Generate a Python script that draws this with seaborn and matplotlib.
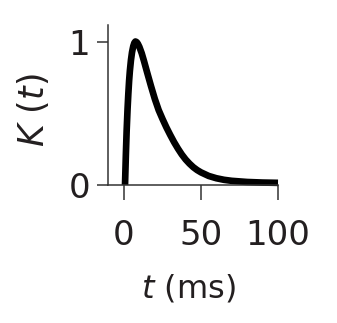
import matplotlib
matplotlib.use("Agg")
import matplotlib.pyplot as plt
import seaborn as sns
import pandas as pd

# Data
t_ms = [0.65, 1.2, 1.7, 2.3, 2.8, 3.3, 3.8, 4.5, 5.2, 6.0, 6.7, 7.4, 8.2, 9.0, 10.0,
        11.5, 13.0, 15.0, 17.5, 20.0, 22.5, 25.0, 27.5, 30.0, 32.5, 35.0, 37.5, 40.0,
        42.5, 45.0, 47.5, 50.0, 55.0, 60.0, 65.0, 70.0, 80.0, 90.0, 100.0]
K_vals = [0.0, 0.21, 0.375, 0.53, 0.635, 0.725, 0.795, 0.87, 0.925, 0.967, 0.99, 1.0,
          0.996, 0.984, 0.962, 0.918, 0.863, 0.785, 0.69, 0.6, 0.522, 0.46, 0.402,
          0.349, 0.299, 0.254, 0.213, 0.178, 0.149, 0.124, 0.104, 0.088, 0.063, 0.047,
          0.036, 0.029, 0.021, 0.017, 0.015]
x_ticks = [0, 50, 100]
y_ticks = [0, 1]
x_label = "$t$ (ms)"
y_label = "$K$ ($t$)"

sns.set_style("ticks")
plt.rcParams['font.family'] = ['DejaVu Sans']
plt.rcParams['mathtext.fontset'] = 'dejavusans'

df = pd.DataFrame({"t": t_ms, "K": K_vals})

fig = plt.figure(figsize=(3.37, 3.23), dpi=100)
ax = fig.add_axes([108 / 337, 138 / 323, 170 / 337, 160 / 323])

sns.lineplot(data=df, x="t", y="K", ax=ax, color="black", linewidth=4.8,
             solid_joinstyle="round", solid_capstyle="butt", clip_on=False)

ax.set_xlim(-10.4, 100)
ax.set_ylim(0, 1.115)
ax.set_xticks(x_ticks)
ax.set_yticks(y_ticks)
ax.set_xticklabels([str(v) for v in x_ticks])
ax.set_yticklabels([str(v) for v in y_ticks])

text_color = "#231f20"
spine_color = "#333333"
for s in ["top", "right"]:
    ax.spines[s].set_visible(False)
for s in ["left", "bottom"]:
    ax.spines[s].set_color(spine_color)
    ax.spines[s].set_linewidth(1.1)

ax.tick_params(axis="x", direction="out", length=10.8, width=1.1, color=spine_color,
               labelsize=24.5, labelcolor=text_color, pad=14)
ax.tick_params(axis="y", direction="out", length=8, width=1.1, color=spine_color,
               labelsize=24.5, labelcolor=text_color, pad=5)

ax.set_xlabel(x_label, fontsize=23, color=text_color)
ax.set_ylabel(y_label, fontsize=25, color=text_color)
ax.xaxis.set_label_coords(0.47, -0.545)
ax.yaxis.set_label_coords(-0.335, 0.465)

fig.savefig("out.png", dpi=100, facecolor="white")
